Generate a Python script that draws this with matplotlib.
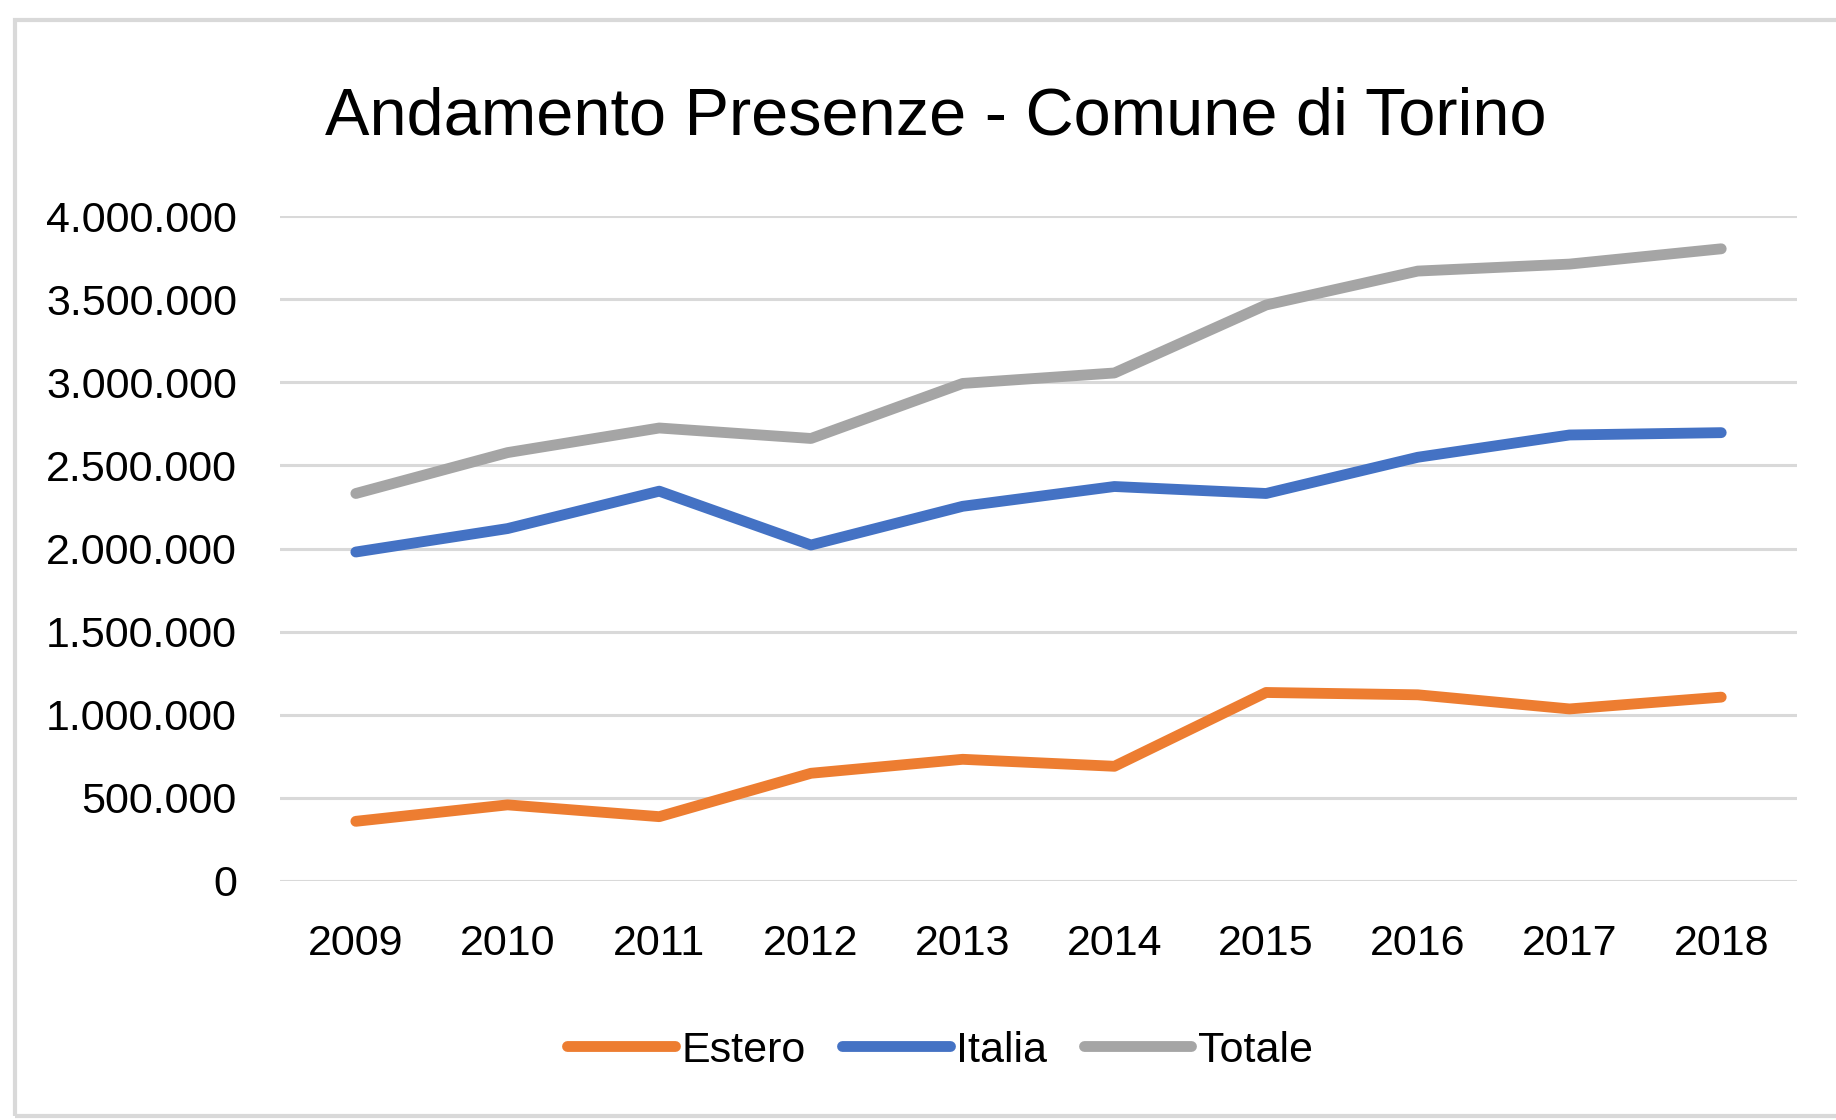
import matplotlib

matplotlib.use("Agg")
import matplotlib.pyplot as plt
from matplotlib.patches import Rectangle
from matplotlib.ticker import FuncFormatter

# Dati (presenze per anno)
anni = ["2009", "2010", "2011", "2012", "2013", "2014", "2015", "2016", "2017", "2018"]
estero = [359000, 458000, 387000, 648000, 732000, 690000, 1134000, 1120000, 1035000, 1106000]
italia = [1979000, 2120000, 2345000, 2021000, 2254000, 2373000, 2331000, 2549000, 2683000, 2697000]
totale = [2331000, 2577000, 2725000, 2662000, 2993000, 3056000, 3465000, 3669000, 3711000, 3803000]

serie = [("Estero", estero, "#ED7D31"), ("Italia", italia, "#4472C4"), ("Totale", totale, "#A5A5A5")]

plt.rcParams["font.family"] = ["Liberation Sans", "DejaVu Sans"]
TICK_FS, TITLE_FS = 31, 48


def fmt_punti(v, _pos):
    return f"{int(round(v)):,}".replace(",", ".")


fig = plt.figure(figsize=(18.36, 11.2), dpi=100)
ax = fig.add_axes([0.1525, 0.2134, 0.8263, 0.5937])

x = list(range(len(anni)))
for nome, valori, colore in serie:
    ax.plot(x, valori, color=colore, linewidth=7.8, label=nome,
            solid_capstyle="round", solid_joinstyle="round")

ax.set_xlim(-0.5, len(anni) - 0.5)
ax.set_ylim(0, 4000000)
ax.set_yticks(range(0, 4000001, 500000))
ax.yaxis.set_major_formatter(FuncFormatter(fmt_punti))
ax.set_xticks(x)
ax.set_xticklabels(anni)
ax.grid(axis="y", color="#D9D9D9", linewidth=2.2)
ax.set_axisbelow(True)
for s in ax.spines.values():
    s.set_visible(False)
ax.tick_params(axis="both", length=0, labelsize=TICK_FS, colors="black")
ax.tick_params(axis="y", pad=31)
ax.tick_params(axis="x", pad=31)

fig.text(0.5098, 0.8795, "Andamento Presenze - Comune di Torino",
         ha="center", va="baseline", fontsize=TITLE_FS)

fig.legend(loc="center", bbox_to_anchor=(0.512, 0.062), ncol=3, frameon=False,
           fontsize=TICK_FS, handlelength=2.5, handletextpad=0.15,
           columnspacing=0.85)

fig.patches.append(Rectangle((0.0082, 0.0036), 1.2, 0.9786, transform=fig.transFigure,
                             fill=False, edgecolor="#D9D9D9", linewidth=3))

fig.savefig("out.png", dpi=100)
